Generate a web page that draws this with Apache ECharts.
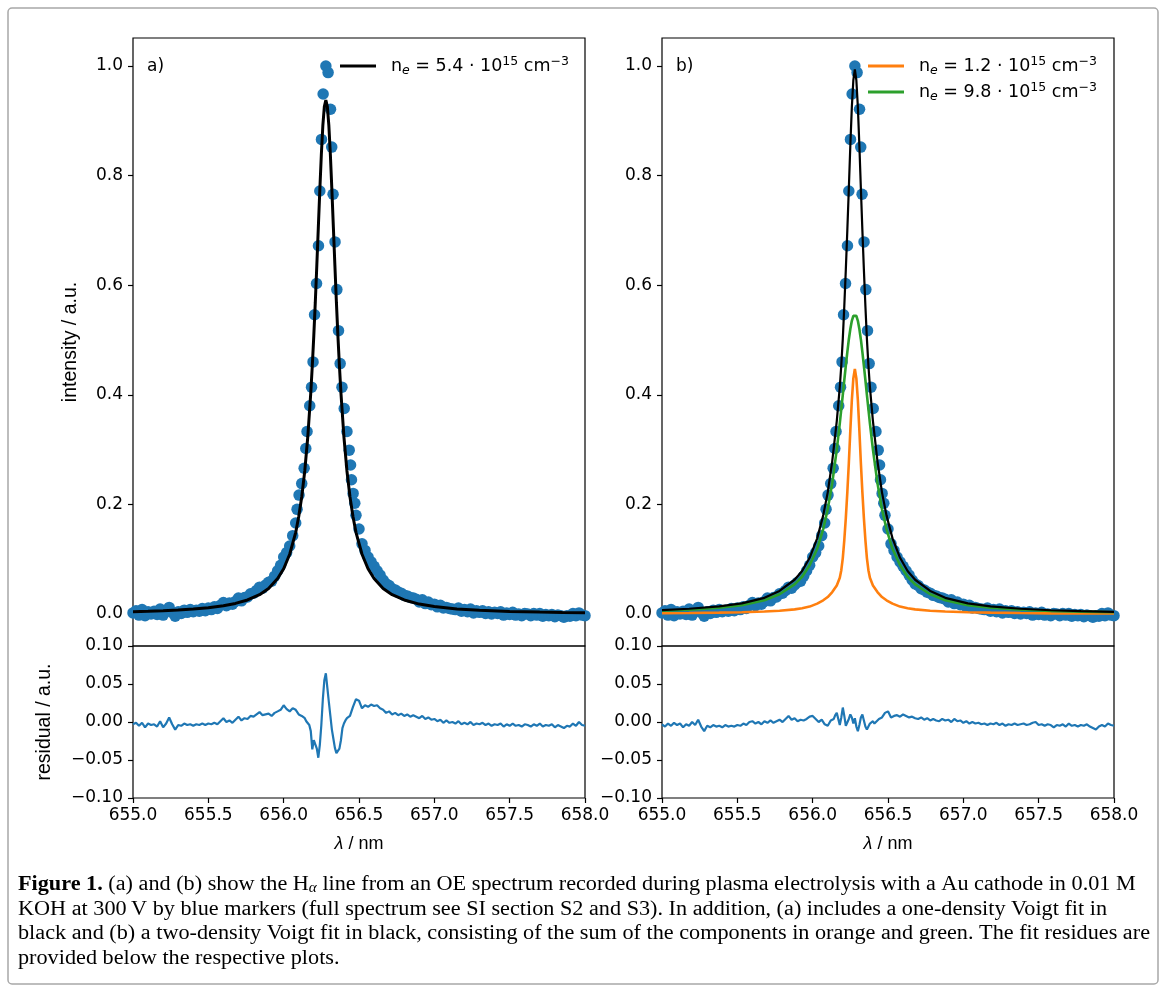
<!DOCTYPE html>
<html><head><meta charset="utf-8">
<script src="https://cdn.jsdelivr.net/npm/echarts@6/dist/echarts.min.js"></script>
<style>html,body{margin:0;padding:0;background:#fff}#c{width:1166px;height:991px}</style>
</head><body><div id="c"></div>
<script>
// ---------- measured spectrum (blue markers), same in (a) and (b) ----------
const dataX = [
655.00,655.02,655.04,655.06,655.08,655.10,655.12,655.14,655.16,655.18,
655.20,655.22,655.24,655.26,655.28,655.30,655.32,655.34,655.36,655.38,
655.40,655.42,655.44,655.46,655.48,655.50,655.52,655.54,655.56,655.58,
655.60,655.62,655.64,655.66,655.68,655.70,655.72,655.74,655.76,655.78,
655.80,655.82,655.84,655.86,655.88,655.90,655.92,655.94,655.96,655.98,
656.00,656.02,656.04,656.06,656.08,
656.089,656.102,656.120,656.136,656.147,656.155,656.173,656.185,656.195,656.205,
656.218,656.231,656.240,656.251,656.262,656.280,656.295,656.311,656.319,656.328,
656.341,656.353,656.364,656.375,656.387,656.402,656.420,656.435,656.444,656.450,
656.461,656.472,
656.48,656.50,656.52,656.54,656.56,656.58,656.60,656.62,656.64,656.66,
656.68,656.70,656.72,656.74,656.76,656.78,656.80,656.82,656.84,656.86,
656.88,656.90,656.92,656.94,656.96,656.98,657.00,657.02,657.04,657.06,
657.08,657.10,657.12,657.14,657.16,657.18,657.20,657.22,657.24,657.26,
657.28,657.30,657.32,657.34,657.36,657.38,657.40,657.42,657.44,657.46,
657.48,657.50,657.52,657.54,657.56,657.58,657.60,657.62,657.64,657.66,
657.68,657.70,657.72,657.74,657.76,657.78,657.80,657.82,657.84,657.86,
657.88,657.90,657.92,657.94,657.96,657.98,658.00];
const dataY = [
0.002,0.006,-0.002,0.008,-0.003,0.004,0.000,0.005,-0.001,0.009,
-0.002,0.006,0.012,0.003,-0.004,0.004,0.001,0.007,0.003,0.008,
0.004,0.007,0.005,0.010,0.006,0.011,0.008,0.013,0.010,0.016,
0.021,0.015,0.020,0.018,0.023,0.029,0.024,0.030,0.031,0.037,
0.038,0.043,0.049,0.047,0.053,0.058,0.060,0.069,0.079,0.089,
0.104,0.112,0.124,0.143,0.166,
0.191,0.217,0.238,0.266,0.302,0.333,0.380,0.414,0.460,0.546,
0.603,0.672,0.772,0.866,0.949,1.000,0.988,0.921,0.852,0.766,
0.679,0.592,0.517,0.457,0.414,0.375,0.333,0.299,0.272,0.245,
0.220,0.202,
0.180,0.155,0.128,0.116,0.104,0.095,0.087,0.079,0.071,0.062,
0.055,0.052,0.046,0.044,0.040,0.038,0.034,0.033,0.030,0.029,
0.027,0.022,0.026,0.019,0.022,0.017,0.018,0.013,0.016,0.011,
0.012,0.010,0.009,0.008,0.011,0.005,0.008,0.004,0.009,0.002,
0.006,0.003,0.006,0.001,0.004,0.000,0.003,0.001,0.004,-0.002,
0.002,-0.001,0.003,-0.002,0.000,-0.003,0.001,0.000,-0.003,0.001,
-0.002,0.001,-0.004,-0.001,-0.003,-0.001,-0.005,-0.002,-0.003,-0.006,
-0.003,-0.004,0.001,-0.003,0.002,-0.002,-0.003];

// ---------- (a) one-density Voigt fit ----------
const fitAX = [655.00,655.10,655.20,655.30,655.40,655.50,655.60,655.68,655.76,655.84,655.90,655.96,656.00,656.04,656.08,656.10,656.12,656.14,656.16,656.18,656.19,656.20,656.21,656.22,656.23,656.24,656.25,656.26,656.27,656.28,656.29,656.30,656.31,656.32,656.33,656.34,656.35,656.36,656.37,656.38,656.40,656.42,656.44,656.46,656.48,656.52,656.56,656.60,656.66,656.72,656.80,656.90,657.00,657.15,657.30,657.50,657.70,657.85,658.00];
const fitAY = [0.0043,0.0051,0.0060,0.0073,0.0091,0.0115,0.0151,0.0193,0.0256,0.0353,0.0467,0.0647,0.0826,0.109,0.149,0.178,0.214,0.261,0.323,0.404,0.453,0.508,0.569,0.636,0.705,0.774,0.838,0.891,0.926,0.938,0.926,0.891,0.838,0.774,0.705,0.636,0.569,0.508,0.453,0.404,0.323,0.261,0.214,0.178,0.149,0.109,0.0826,0.0647,0.0467,0.0353,0.0256,0.0181,0.0135,0.0093,0.0068,0.0047,0.0035,0.0029,0.0024];

// ---------- (b) two-density Voigt fit: components and sum ----------
const fitBX = [655.00,655.18,655.38,655.53,655.68,655.78,655.88,655.93,655.98,656.03,656.07,656.10,656.13,656.16,656.18,656.19,656.20,656.21,656.22,656.23,656.24,656.25,656.26,656.27,656.28,656.29,656.30,656.31,656.32,656.33,656.34,656.35,656.36,656.37,656.38,656.40,656.43,656.46,656.49,656.53,656.58,656.63,656.68,656.78,656.88,657.03,657.18,657.38,657.58,657.78,658.00];
const fitOrangeY = [0.0013,0.0018,0.0025,0.0033,0.0045,0.006,0.0085,0.0105,0.0135,0.019,0.025,0.031,0.040,0.052,0.066,0.080,0.102,0.135,0.175,0.222,0.275,0.335,0.390,0.430,0.447,0.430,0.390,0.335,0.275,0.222,0.175,0.135,0.102,0.080,0.066,0.052,0.040,0.031,0.025,0.019,0.0135,0.0105,0.0085,0.006,0.0045,0.0033,0.0025,0.0018,0.0012,0.0010,0.0008];
const fitGreenY = [0.0058,0.0078,0.0115,0.016,0.025,0.036,0.054,0.068,0.089,0.119,0.155,0.191,0.239,0.300,0.348,0.374,0.400,0.427,0.453,0.478,0.501,0.520,0.535,0.544,0.547,0.544,0.535,0.520,0.501,0.478,0.453,0.427,0.400,0.374,0.348,0.300,0.239,0.191,0.155,0.119,0.089,0.068,0.054,0.036,0.025,0.016,0.0115,0.0078,0.0056,0.0043,0.0032];
const fitSumY = [0.0071,0.0096,0.014,0.0193,0.0295,0.042,0.0625,0.0785,0.1025,0.138,0.180,0.222,0.279,0.352,0.414,0.454,0.502,0.562,0.628,0.700,0.776,0.855,0.925,0.974,0.994,0.974,0.925,0.855,0.776,0.700,0.628,0.562,0.502,0.454,0.414,0.352,0.279,0.222,0.180,0.138,0.1025,0.0785,0.0625,0.042,0.0295,0.0193,0.014,0.0096,0.0068,0.0053,0.004];

// ---------- residuals ----------
const resX = [
655.00,655.02,655.04,655.06,655.08,655.10,655.12,655.14,655.16,655.18,
655.20,655.22,655.24,655.26,655.28,655.30,655.32,655.34,655.36,655.38,
655.40,655.42,655.44,655.46,655.48,655.50,655.52,655.54,655.56,655.58,
655.60,655.62,655.64,655.66,655.68,655.70,655.72,655.74,655.76,655.78,
655.80,655.82,655.84,655.86,655.88,655.90,655.92,655.94,655.96,655.98,
656.00,656.02,656.04,656.06,656.08,656.10,656.12,656.14,
656.15,656.16,656.17,656.18,656.19,656.20,656.21,656.22,656.23,656.24,
656.25,656.26,656.27,656.28,656.29,656.30,656.31,656.32,656.33,656.34,
656.35,656.36,656.37,656.38,656.39,656.40,656.41,656.42,
656.44,656.46,656.48,656.50,656.52,656.54,656.56,656.58,656.60,656.62,
656.64,656.66,656.68,656.70,656.72,656.74,656.76,656.78,656.80,656.82,
656.84,656.86,656.88,656.90,656.92,656.94,656.96,656.98,657.00,657.02,
657.04,657.06,657.08,657.10,657.12,657.14,657.16,657.18,657.20,657.22,
657.24,657.26,657.28,657.30,657.32,657.34,657.36,657.38,657.40,657.42,
657.44,657.46,657.48,657.50,657.52,657.54,657.56,657.58,657.60,657.62,
657.64,657.66,657.68,657.70,657.72,657.74,657.76,657.78,657.80,657.82,
657.84,657.86,657.88,657.90,657.92,657.94,657.96,657.98,658.00];
const resAY = [
-0.003,-0.001,-0.005,-0.001,-0.007,-0.002,-0.004,-0.003,-0.006,0.001,
-0.007,-0.002,0.006,-0.003,-0.010,-0.004,-0.005,-0.002,-0.004,-0.003,
-0.005,-0.003,-0.004,-0.002,-0.004,-0.002,-0.003,-0.001,-0.003,0.001,
0.005,0.000,0.002,-0.001,0.003,0.007,0.002,0.005,0.004,0.008,
0.007,0.010,0.013,0.009,0.010,0.011,0.008,0.012,0.014,0.016,
0.022,0.017,0.014,0.018,0.016,0.010,0.008,0.005,
0.001,-0.001,-0.004,-0.012,-0.036,-0.024,-0.022,-0.035,-0.047,-0.030,
-0.004,0.030,0.055,0.064,0.045,0.026,0.008,-0.010,-0.022,-0.034,
-0.041,-0.042,-0.035,-0.024,-0.008,-0.002,0.002,0.005,
0.008,0.020,0.030,0.028,0.018,0.022,0.020,0.023,0.021,0.022,
0.018,0.016,0.012,0.014,0.010,0.012,0.009,0.011,0.008,0.010,
0.007,0.009,0.007,0.005,0.008,0.004,0.006,0.003,0.004,0.001,
0.003,-0.001,0.002,-0.001,0.000,-0.002,0.001,-0.003,-0.001,-0.003,
0.000,-0.004,-0.002,-0.003,-0.001,-0.004,-0.002,-0.005,-0.003,-0.004,
-0.002,-0.006,-0.003,-0.005,-0.002,-0.005,-0.004,-0.006,-0.003,-0.004,
-0.006,-0.003,-0.005,-0.002,-0.006,-0.004,-0.005,-0.003,-0.007,-0.004,
-0.006,-0.008,-0.005,-0.006,-0.002,-0.005,0.000,-0.004,-0.005];
const resBY = [
-0.003,-0.006,-0.002,-0.005,-0.001,-0.004,-0.002,-0.007,-0.003,-0.005,
0.000,-0.004,0.003,-0.006,-0.012,-0.005,-0.007,-0.004,-0.006,-0.005,
-0.007,-0.004,-0.006,-0.005,-0.006,-0.004,-0.005,-0.002,-0.004,0.000,
0.001,-0.002,0.000,-0.003,0.001,-0.001,0.002,-0.001,0.001,0.003,
0.000,0.004,0.008,0.003,0.005,0.001,0.003,0.002,0.004,0.007,
0.008,0.004,0.000,0.003,-0.003,-0.005,0.002,0.004,
0.009,0.012,0.004,-0.004,0.006,0.019,0.008,-0.005,-0.007,0.004,
0.010,0.006,-0.002,0.005,-0.006,-0.012,-0.004,0.006,0.010,0.002,
-0.006,-0.010,-0.006,-0.002,0.000,0.001,-0.002,0.000,
0.004,0.006,0.012,0.014,0.006,0.008,0.009,0.007,0.010,0.008,
0.006,0.007,0.005,0.004,0.006,0.003,0.005,0.002,0.004,0.002,
0.001,0.004,0.002,0.003,0.000,0.004,0.001,0.002,-0.001,0.001,
-0.002,0.000,-0.002,-0.001,-0.003,-0.002,-0.004,-0.002,-0.003,-0.001,
-0.004,-0.002,-0.005,-0.003,-0.004,-0.002,-0.004,-0.003,-0.002,-0.004,
-0.003,-0.001,0.000,-0.004,-0.003,-0.005,-0.003,-0.004,-0.007,-0.004,
-0.005,-0.003,-0.006,-0.002,-0.005,-0.004,-0.006,-0.004,-0.005,-0.003,
-0.006,-0.008,-0.010,-0.006,-0.004,-0.006,-0.002,-0.004,-0.005];

// ---------- tick labels / texts ----------
const intensityTicks = [0.0, 0.2, 0.4, 0.6, 0.8, 1.0];
const legendLabels = {
  fitA: '{n|n}{e|e}{n| = 5.4 · 10}{s|15}{n| cm}{s|−3}',
  fitB1: '{n|n}{e|e}{n| = 1.2 · 10}{s|15}{n| cm}{s|−3}',
  fitB2: '{n|n}{e|e}{n| = 9.8 · 10}{s|15}{n| cm}{s|−3}'
};
const panelLabels = ['a)', 'b)'];
const captionLines = [
  '{b|Figure 1.} (a) and (b) show the H{sub|α} line from an OE spectrum recorded during plasma electrolysis with a Au cathode in 0.01 M',
  'KOH at 300\u2009V by blue markers (full spectrum see SI section S2 and S3). In addition, (a) includes a one-density Voigt fit in',
  'black and (b) a two-density Voigt fit in black, consisting of the sum of the components in orange and green. The fit residues are',
  'provided below the respective plots.'
];

const zip = (xs, ys) => xs.map((x, i) => [x, ys[i]]);
const BLUE = '#1f77b4', ORANGE = '#ff7f0e', GREEN = '#2ca02c';
const TICKFONT = 'DejaVu Sans';
const LABELFONT = 'Liberation Sans';

const chart = echarts.init(document.getElementById('c'), null, {renderer: 'canvas', width: 1166, height: 991});

const grids = [
  {left: 133, top: 38, width: 452, height: 608},
  {left: 133, top: 646, width: 452, height: 152},
  {left: 662, top: 38, width: 452, height: 608},
  {left: 662, top: 646, width: 452, height: 152}
].map(g => Object.assign(g, {show: true, borderColor: '#000', borderWidth: 1.2, backgroundColor: 'transparent', containLabel: false}));

const tickStyle = {length: 5, lineStyle: {color: '#000', width: 1.2}};
const labelStyle = {color: '#000', fontSize: 17, fontFamily: TICKFONT};

function xAx(gi, bottom) {
  return {
    type: 'value', gridIndex: gi, min: 655, max: 658, interval: 0.5,
    axisLine: {show: false, onZero: false}, splitLine: {show: false},
    axisTick: Object.assign({show: bottom}, tickStyle),
    axisLabel: Object.assign({show: bottom, margin: 9, showMinLabel: true, showMaxLabel: true,
      formatter: v => v.toFixed(1)}, labelStyle),
    name: bottom ? '{i|λ}{t| / nm}' : '', nameLocation: 'middle', nameGap: 37,
    nameTextStyle: {fontFamily: LABELFONT, fontSize: 18, color: '#000',
      rich: {i: {fontStyle: 'italic', fontFamily: LABELFONT, fontSize: 18, color: '#000'},
             t: {fontFamily: LABELFONT, fontSize: 18, color: '#000'}}}
  };
}
function yTop(gi, named) {
  return {
    type: 'value', gridIndex: gi, min: -0.0584, max: 1.0511,
    axisLine: {show: false, onZero: false}, splitLine: {show: false},
    axisTick: Object.assign({show: true, customValues: intensityTicks}, tickStyle),
    axisLabel: Object.assign({show: true, margin: 10, customValues: intensityTicks,
      formatter: v => v.toFixed(1)}, labelStyle),
    name: named ? 'intensity / a.u.' : '', nameLocation: 'middle', nameGap: 52,
    nameTextStyle: {fontFamily: LABELFONT, fontSize: 19.5, color: '#000'}
  };
}
function yRes(gi, named) {
  return {
    type: 'value', gridIndex: gi, min: -0.1, max: 0.1, interval: 0.05,
    axisLine: {show: false, onZero: false}, splitLine: {show: false},
    axisTick: Object.assign({show: true}, tickStyle),
    axisLabel: Object.assign({show: true, margin: 10, showMinLabel: true, showMaxLabel: true,
      formatter: v => { const a = Math.abs(v) < 1e-9 ? 0 : v; return (a < 0 ? '\u2212' : '') + Math.abs(a).toFixed(2); }}, labelStyle),
    name: named ? 'residual / a.u.' : '', nameLocation: 'middle', nameGap: 78,
    nameTextStyle: {fontFamily: LABELFONT, fontSize: 19.5, color: '#000'}
  };
}

const legendRich = {
  n: {fontSize: 17.5, fontFamily: TICKFONT, color: '#000', lineHeight: 22},
  e: {fontSize: 12.5, fontFamily: TICKFONT, fontStyle: 'italic', color: '#000', verticalAlign: 'bottom', lineHeight: 15},
  s: {fontSize: 12.5, fontFamily: TICKFONT, color: '#000', verticalAlign: 'top', lineHeight: 14}
};
function legendCfg(names, left) {
  return {
    data: names.map(n => ({name: n, icon: 'rect'})), orient: 'vertical',
    left: left, top: 55, padding: 0, itemGap: 4, itemWidth: 36, itemHeight: 3,
    selectedMode: false, formatter: n => legendLabels[n],
    textStyle: {rich: legendRich, fontFamily: TICKFONT, fontSize: 17.5, color: '#000', padding: [0, 0, 0, 10]}
  };
}

const spectrum = zip(dataX, dataY);
const lineBase = {type: 'line', symbol: 'none', showSymbol: false, silent: true, smooth: false};

const graphics = [
  {type: 'rect', silent: true, z: -10, shape: {x: 8, y: 8, width: 1150, height: 976, r: 4},
   style: {fill: 'none', stroke: '#a8a8a8', lineWidth: 1.5}},
  {type: 'text', x: 147, y: 67, silent: true, style: {text: panelLabels[0], font: '17px "DejaVu Sans"', fill: '#000', verticalAlign: 'middle'}},
  {type: 'text', x: 676, y: 67, silent: true, style: {text: panelLabels[1], font: '17px "DejaVu Sans"', fill: '#000', verticalAlign: 'middle'}}
];
const capRich = {
  b: {fontWeight: 'bold', fontFamily: 'Liberation Serif', fontSize: 20.5, fill: '#000'},
  sub: {fontStyle: 'italic', fontFamily: 'Liberation Serif', fontSize: 14, fill: '#000', verticalAlign: 'bottom', lineHeight: 16}
};
captionLines.forEach((t, i) => {
  graphics.push({type: 'text', x: 18, y: 885 + i * 24.5, scaleX: 1.084, silent: true,
    style: {text: t, font: '20.5px "Liberation Serif"', fill: '#000', verticalAlign: 'middle', rich: capRich}});
});

chart.setOption({
  animation: false,
  textStyle: {fontFamily: TICKFONT},
  grid: grids,
  xAxis: [xAx(0, false), xAx(1, true), xAx(2, false), xAx(3, true)],
  yAxis: [yTop(0, true), yRes(1, true), yTop(2, false), yRes(3, false)],
  legend: [legendCfg(['fitA'], 340), legendCfg(['fitB1', 'fitB2'], 868)],
  graphic: graphics,
  series: [
    {type: 'scatter', name: 'dataA', xAxisIndex: 0, yAxisIndex: 0, data: spectrum, symbolSize: 11.5, silent: true,
     itemStyle: {color: BLUE, opacity: 1}, z: 2},
    Object.assign({name: 'fitA', xAxisIndex: 0, yAxisIndex: 0, data: zip(fitAX, fitAY),
     lineStyle: {color: '#000', width: 3}, itemStyle: {color: '#000'}, z: 3}, lineBase),
    Object.assign({name: 'resA', xAxisIndex: 1, yAxisIndex: 1, data: zip(resX, resAY),
     lineStyle: {color: BLUE, width: 2.2}, itemStyle: {color: BLUE}, z: 3}, lineBase),
    {type: 'scatter', name: 'dataB', xAxisIndex: 2, yAxisIndex: 2, data: spectrum, symbolSize: 11.5, silent: true,
     itemStyle: {color: BLUE, opacity: 1}, z: 2},
    Object.assign({name: 'fitB1', xAxisIndex: 2, yAxisIndex: 2, data: zip(fitBX, fitOrangeY),
     lineStyle: {color: ORANGE, width: 2.6}, itemStyle: {color: ORANGE}, z: 3}, lineBase),
    Object.assign({name: 'fitB2', xAxisIndex: 2, yAxisIndex: 2, data: zip(fitBX, fitGreenY),
     lineStyle: {color: GREEN, width: 2.6}, itemStyle: {color: GREEN}, z: 3}, lineBase),
    Object.assign({name: 'fitBsum', xAxisIndex: 2, yAxisIndex: 2, data: zip(fitBX, fitSumY),
     lineStyle: {color: '#000', width: 2.2}, itemStyle: {color: '#000'}, z: 4}, lineBase),
    Object.assign({name: 'resB', xAxisIndex: 3, yAxisIndex: 3, data: zip(resX, resBY),
     lineStyle: {color: BLUE, width: 2.2}, itemStyle: {color: BLUE}, z: 3}, lineBase)
  ]
});
</script></body></html>
